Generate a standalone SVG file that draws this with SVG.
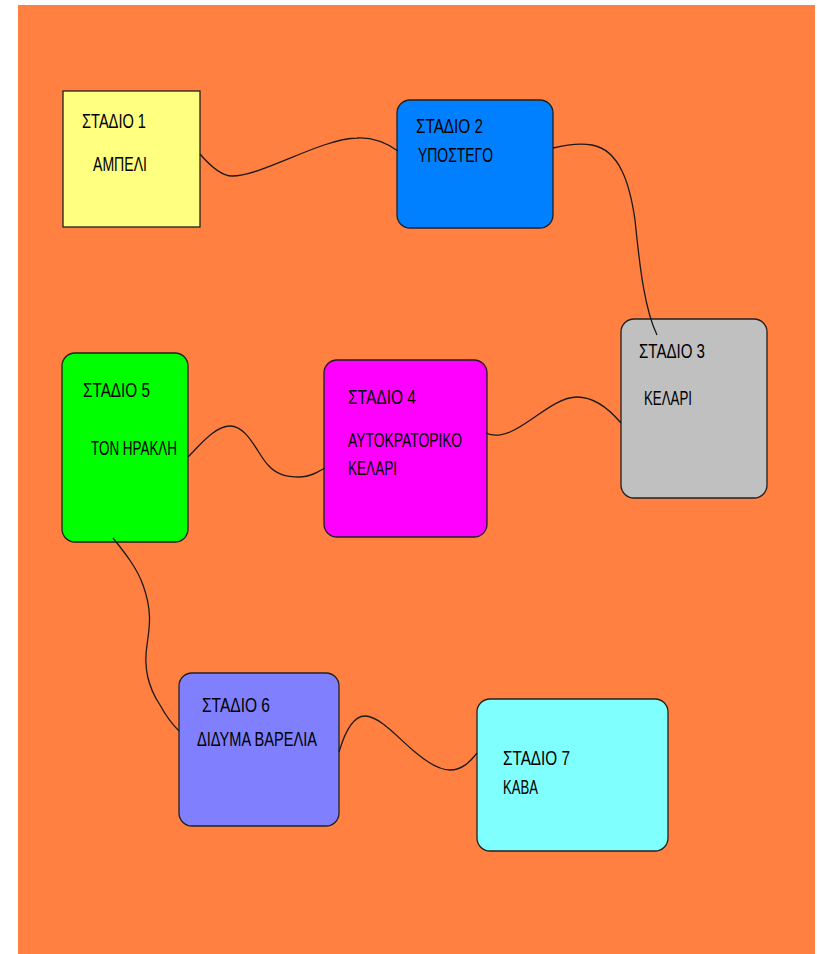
<svg xmlns="http://www.w3.org/2000/svg" width="817" height="954" viewBox="0 0 817 954">
<style>
.node{stroke:#202020;stroke-width:1.3}
.t{font-family:"Liberation Sans","DejaVu Sans",sans-serif;font-size:21px;fill:#000}
.c{fill:none;stroke:#1a1a1a;stroke-width:1.3}
</style>
<rect x="0" y="0" width="817" height="954" fill="#ffffff"/>
<rect x="18" y="5" width="797" height="949" fill="#FF8040"/>
<g id="node1">
<rect class="node" x="63" y="91" width="137" height="136" fill="#FFFF80"/>
<text class="t" x="82" y="128" textLength="64" lengthAdjust="spacingAndGlyphs">ΣΤΑΔΙΟ 1</text>
<text class="t" x="93" y="171" textLength="54" lengthAdjust="spacingAndGlyphs">ΑΜΠΕΛΙ</text>
</g>
<g id="node2">
<rect class="node" x="397" y="100" width="156" height="128" rx="13" fill="#0080FF"/>
<text class="t" x="416" y="133" textLength="67" lengthAdjust="spacingAndGlyphs">ΣΤΑΔΙΟ 2</text>
<text class="t" x="418" y="162" textLength="75" lengthAdjust="spacingAndGlyphs">ΥΠΟΣΤΕΓΟ</text>
</g>
<g id="node3">
<rect class="node" x="621" y="319" width="146" height="179" rx="13" fill="#C0C0C0"/>
<text class="t" x="639" y="358" textLength="66" lengthAdjust="spacingAndGlyphs">ΣΤΑΔΙΟ 3</text>
<text class="t" x="644" y="405" textLength="48" lengthAdjust="spacingAndGlyphs">ΚΕΛΑΡΙ</text>
</g>
<g id="node4">
<rect class="node" x="324" y="360" width="163" height="177" rx="13" fill="#FF00FF"/>
<text class="t" x="348" y="404" textLength="68" lengthAdjust="spacingAndGlyphs">ΣΤΑΔΙΟ 4</text>
<text class="t" x="348" y="447" textLength="114" lengthAdjust="spacingAndGlyphs">ΑΥΤΟΚΡΑΤΟΡΙΚΟ</text>
<text class="t" x="348" y="475" textLength="49" lengthAdjust="spacingAndGlyphs">ΚΕΛΑΡΙ</text>
</g>
<g id="node5">
<rect class="node" x="62" y="353" width="126" height="189" rx="13" fill="#00FF00"/>
<text class="t" x="83" y="397" textLength="67" lengthAdjust="spacingAndGlyphs">ΣΤΑΔΙΟ 5</text>
<text class="t" x="91" y="455" textLength="86" lengthAdjust="spacingAndGlyphs">ΤΟΝ ΗΡΑΚΛΗ</text>
</g>
<g id="node6">
<rect class="node" x="179" y="673" width="160" height="153" rx="13" fill="#8080FF"/>
<text class="t" x="202" y="712" textLength="68" lengthAdjust="spacingAndGlyphs">ΣΤΑΔΙΟ 6</text>
<text class="t" x="197" y="746" textLength="120" lengthAdjust="spacingAndGlyphs">ΔΙΔΥΜΑ ΒΑΡΕΛΙΑ</text>
</g>
<g id="node7">
<rect class="node" x="477" y="699" width="191" height="152" rx="13" fill="#80FFFF"/>
<text class="t" x="503" y="765" textLength="67" lengthAdjust="spacingAndGlyphs">ΣΤΑΔΙΟ 7</text>
<text class="t" x="503" y="794" textLength="35" lengthAdjust="spacingAndGlyphs">ΚΑΒΑ</text>
</g>
<g id="connectors">
<path class="c" d="M200,154 C212,168 222,176 232,176 C262,176 320,139 357,138 C375,137 388,144 398,151"/>
<path class="c" d="M553,148 C565,145 580,143 592,145 C620,150 630,185 635,220 C640,270 645,310 657,335"/>
<path class="c" d="M486,433 C492,436 500,436 510,432 C530,424 555,397 577,397 C595,397 610,410 621,423"/>
<path class="c" d="M188,457 C200,445 215,426 230,426 C248,426 258,455 268,465 C276,474 285,477 300,477 C310,477 318,472 325,468"/>
<path class="c" d="M113,538 C125,553 137,568 143,585 C152,610 150,625 147,645 C143,670 150,690 160,705 C166,716 172,724 179,731"/>
<path class="c" d="M339,752 C344,735 352,716 365,716 C380,716 400,740 415,752 C428,763 440,770 450,770 C462,770 470,762 477,753"/>
</g>
</svg>
